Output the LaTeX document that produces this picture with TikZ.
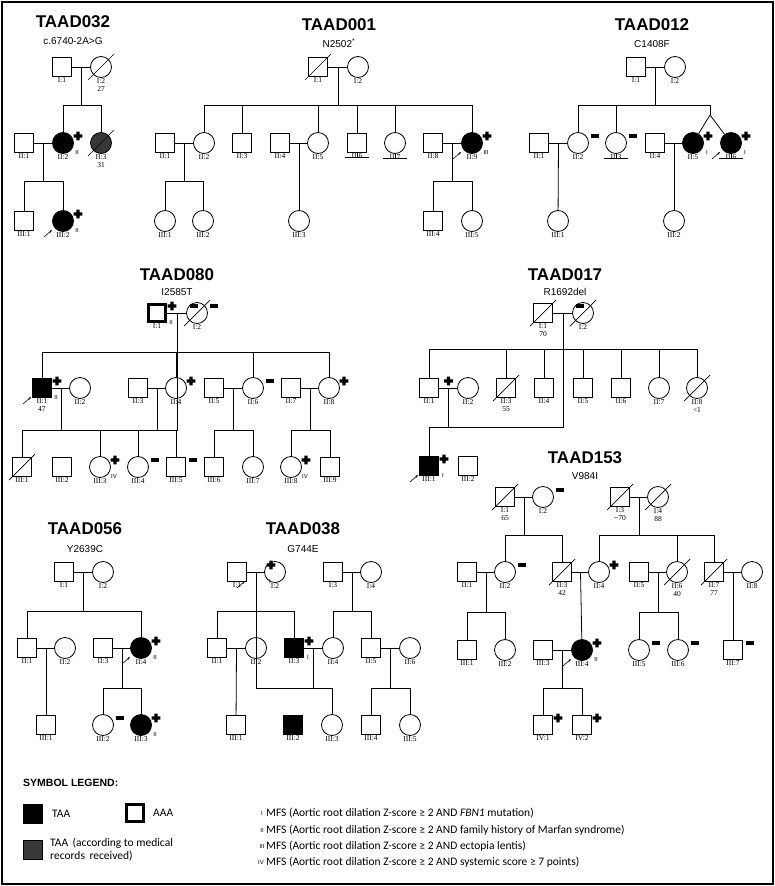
\documentclass[tikz,border=0pt]{standalone}
\usepackage{fontspec}
\setmainfont{Liberation Serif}
\newfontfamily\hfont{Liberation Sans}
\newfontfamily\legfont{Carlito}
\usepackage{tikz}
\usetikzlibrary{calc, arrows.meta}
\tikzstyle{per} = [draw, line width=0.8pt, inner sep=0pt, label distance=1pt]
\tikzstyle{m} = [per, rectangle, minimum size=19]
\tikzstyle{f} = [per, circle, minimum size=21]
\tikzstyle{aff} = [fill=black]
\tikzstyle{gry} = [fill=black!78]
\tikzstyle{aaa} = [line width=3pt, minimum size=17]
\tikzstyle{lab} = [font=\fontsize{7.5}{7.5}\selectfont, align=center, inner sep=0.5pt]
\tikzstyle{title} = [font=\hfont\bfseries\fontsize{17}{17}\selectfont]
\tikzstyle{mut} = [font=\hfont\fontsize{10}{10}\selectfont]
\tikzstyle{rn} = [font=\hfont\fontsize{6}{6}\selectfont, inner sep=0pt]
\tikzstyle{leg} = [font=\legfont\fontsize{11.5}{13}\selectfont, anchor=west, inner sep=0pt, align=left]
\tikzset{plus/.pic={\fill (-1.7,-4.3) rectangle (1.7,4.3) (-4.3,-1.7) rectangle (4.3,1.7);},
  minus/.pic={\fill (-4,-1.6) rectangle (4,1.6);}}
\newcommand\M[4][]{\node[m,#1,label={[lab]below:{#4}}] (#2) at (#3) {};}
\newcommand\F[4][]{\node[f,#1,label={[lab]below:{#4}}] (#2) at (#3) {};}
\newcommand\pl[1]{\pic at ([shift={(15,-7)}]#1.center) {plus};}
\newcommand\mi[1]{\pic at ([shift={(17,-7)}]#1.center) {minus};}
\newcommand\rn[2]{\node[rn] at ([shift={(14,9)}]#1.center) {#2};}
\newcommand\pb[1]{\draw[line width=0.6pt,-{Stealth[length=3pt]}] ([shift={(-19,16)}]#1.center) -- ([shift={(-11,9)}]#1.center);}
\newcommand\dead[1]{\draw[line width=0.7pt] ([shift={(-13,13)}]#1.center) -- ([shift={(13,-13)}]#1.center);}
\newcommand\nokid[1]{\draw[line width=0.7pt] (#1.south) -- ++(0,4) ++(-12,0) -- ++(24,0);}
% couple line, then children hanging from a sibship line at height #3
\newcommand\mate[2]{\draw[line width=0.8pt] (#1) -- (#2);}
\newcommand\sibs[3]{\foreach \c in {#3} {\draw[line width=0.8pt] (#1) -- (#1 |- 0,#2) -| (\c);}}

\begin{document}
\begin{tikzpicture}[x=1pt, y=-1pt]
\useasboundingbox (0,0) rectangle (775,886);
\draw[line width=2.5pt] (2,2) rectangle (773,884);

% TAAD032
\node[title] (t32) at (73,22) {TAAD032};
\node[mut] (g32) at (73,41) {c.6740-2A>G};
\M{a1}{62,67}{I:1} \F{a2}{101,67}{I:2\\27}
\M{a3}{24,143}{II:1} \F[aff]{a4}{63,143}{II:2} \F[gry]{a5}{101,143}{II:3\\31}
\M{a6}{24,221}{III:1} \F[aff]{a7}{63,221}{III:2}
\mate{a1}{a2} \mate{a3}{a4}
\coordinate (a12) at ($(a1)!.5!(a2)$); \coordinate (a34) at ($(a3)!.5!(a4)$);
\sibs{a12}{105}{a4,a5} \sibs{a34}{181}{a6,a7}
\dead{a2} \dead{a5} \pl{a4} \rn{a4}{II} \pl{a7} \rn{a7}{II} \pb{a7}

% TAAD001
\node[title] (t01) at (339,25) {TAAD001};
\node[mut] (g01) at (339,43) {N2502\textsuperscript{*}};
\M{b1}{318,67}{I:1} \F{b2}{358,67}{I:2}
\M{b3}{165,143}{II:1} \F{b4}{204,143}{II:2} \M{b5}{242,143}{II:3}
\M{b6}{280,143}{II:4} \F{b7}{318,143}{II:5} \M{b8}{357,143}{II:6}
\F{b9}{395,143}{II:7} \M{b10}{433,143}{II:8} \F[aff]{b11}{472,143}{II:9}
\F{b12}{165,221}{III:1} \F{b13}{203,221}{III:2} \F{b14}{299,221}{III:3}
\M{b15}{433,221}{III:4} \F{b16}{472,221}{III:5}
\mate{b1}{b2} \mate{b3}{b4} \mate{b6}{b7} \mate{b10}{b11}
\coordinate (b12m) at ($(b1)!.5!(b2)$); \coordinate (b34) at ($(b3)!.5!(b4)$);
\coordinate (b67) at ($(b6)!.5!(b7)$); \coordinate (b1011) at ($(b10)!.5!(b11)$);
\sibs{b12m}{105}{b4,b5,b7,b8,b9,b11}
\sibs{b34}{181}{b12,b13} \draw[line width=0.8pt] (b67) -- (b14);
\sibs{b1011}{181}{b15,b16}
\dead{b1} \nokid{b8} \nokid{b9} \pl{b11} \rn{b11}{III} \pb{b11}

% TAAD012
\node[title] (t12) at (652,25) {TAAD012};
\node[mut] (g12) at (652,44) {C1408F};
\M{c1}{636,67}{I:1} \F{c2}{675,67}{I:2}
\M{c3}{539,143}{II:1} \F{c4}{578,143}{II:2} \F{c5}{616,143}{II:3}
\M{c6}{655,143}{II:4} \F[aff]{c7}{693,143}{II:5} \F[aff]{c8}{731,143}{II:6}
\F{c9}{558,221}{III:1} \F{c10}{674,221}{III:2}
\mate{c1}{c2} \mate{c3}{c4} \mate{c6}{c7}
\coordinate (c12) at ($(c1)!.5!(c2)$); \coordinate (c34) at ($(c3)!.5!(c4)$);
\coordinate (c67) at ($(c6)!.5!(c7)$); \coordinate (tw) at (710,115);
\sibs{c12}{105}{c4,c5,tw}
\draw[line width=0.8pt] (tw) -- (c7); \draw[line width=0.8pt] (tw) -- (c8);
\draw[line width=0.8pt] (c34) -- (c9); \draw[line width=0.8pt] (c67) -- (c10);
\mi{c4} \mi{c5} \nokid{c5} \pl{c7} \rn{c7}{I} \pl{c8} \rn{c8}{I} \pb{c8} \nokid{c8}

% TAAD080
\node[title] (t80) at (177,275) {TAAD080};
\node[mut] (g80) at (177,292) {I2585T};
\M[aaa]{d1}{157,313}{I:1} \F{d2}{197,313}{I:2}
\M[aff]{d3}{42,388}{II:1\\47} \F{d4}{80,388}{II:2} \M{d5}{138,388}{II:3}
\F{d6}{176,388}{II:4} \M{d7}{214,388}{II:5} \F{d8}{253,388}{II:6}
\M{d9}{291,388}{II:7} \F{d10}{329,388}{II:8}
\M{d11}{22,467}{III:1} \M{d12}{62,467}{III:2} \F{d13}{100,467}{III:3}
\F{d14}{138,467}{III:4} \M{d15}{176,467}{III:5} \M{d16}{214,467}{III:6}
\F{d17}{253,467}{III:7} \F{d18}{291,467}{III:8} \M{d19}{330,467}{III:9}
\mate{d1}{d2} \mate{d3}{d4} \mate{d5}{d6} \mate{d7}{d8} \mate{d9}{d10}
\coordinate (d12) at ($(d1)!.5!(d2)$); \coordinate (d34) at ($(d3)!.5!(d4)$);
\coordinate (d56) at ($(d5)!.5!(d6)$); \coordinate (d78) at ($(d7)!.5!(d8)$);
\coordinate (d910) at ($(d9)!.5!(d10)$);
\sibs{d12}{352}{d3,d6,d8,d10}
\sibs{d34}{430}{d11,d12,d13} \sibs{d56}{430}{d14,d15}
\sibs{d78}{430}{d16,d17} \sibs{d910}{430}{d18,d19}
\pl{d1} \rn{d1}{II} \dead{d2} \mi{d2} \pl{d3} \rn{d3}{II} \pb{d3}
\pl{d6} \mi{d8} \pl{d10} \dead{d11} \mi{d12} \pl{d13} \rn{d13}{IV}
\mi{d14} \mi{d15} \pl{d18} \rn{d18}{IV}

% TAAD017
\node[title] (t17) at (565,275) {TAAD017};
\node[mut] (g17) at (565,292) {R1692del};
\M{e1}{543,313}{I:1\\70} \F{e2}{583,313}{I:2}
\M{e3}{429,388}{II:1} \F{e4}{468,388}{II:2} \M{e5}{506,388}{II:3\\55}
\M{e6}{544,388}{II:4} \M{e7}{583,388}{II:5} \M{e8}{621,388}{II:6}
\F{e9}{659,388}{II:7} \F{e10}{697,388}{II:8\\<1}
\M[aff]{e11}{429,466}{III:1} \M{e12}{468,466}{III:2}
\mate{e1}{e2} \mate{e3}{e4}
\coordinate (e12) at ($(e1)!.5!(e2)$); \coordinate (e34) at ($(e3)!.5!(e4)$);
\sibs{e12}{349}{e3,e5,e6,e7,e8,e9,e10} \sibs{e34}{427}{e11,e12}
\dead{e1} \dead{e2} \dead{e5} \dead{e10}
\pic at ([shift={(0,-7)}]e34) {plus};
\pl{e11} \rn{e11}{I} \pb{e11} \mi{e12}

% TAAD153
\node[title] (t153) at (585,458) {TAAD153};
\node[mut] (g153) at (585,476) {V984I};
\M{h1}{505,497}{I:1\\65} \F{h2}{543,497}{I:2} \M{h3}{620,497}{I:3\\\textasciitilde70} \F{h4}{658,497}{I:4\\88}
\M{h5}{467,572}{II:1} \F{h6}{505,572}{II:2} \M{h7}{562,572}{II:3\\42} \F{h8}{599,572}{II:4}
\M{h9}{639,572}{II:5} \F{h10}{677,572}{II:6\\40} \M{h11}{714,572}{II:7\\77} \F{h12}{752,572}{II:8}
\M{h13}{467,650}{III:1} \F{h14}{505,650}{III:2} \M{h15}{543,650}{III:3} \F[aff]{h16}{582,650}{III:4}
\F{h17}{639,650}{III:5} \F{h18}{678,650}{III:6} \M{h19}{733,650}{III:7}
\M{h20}{543,725}{IV:1} \M{h21}{582,725}{IV:2}
\mate{h1}{h2} \mate{h3}{h4} \mate{h5}{h6} \mate{h7}{h8} \mate{h9}{h10} \mate{h11}{h12} \mate{h15}{h16}
\coordinate (h12m) at ($(h1)!.5!(h2)$); \coordinate (h34) at ($(h3)!.5!(h4)$);
\coordinate (h56) at ($(h5)!.5!(h6)$); \coordinate (h78) at ($(h7)!.5!(h8)$);
\coordinate (h910) at ($(h9)!.5!(h10)$); \coordinate (h1112) at ($(h11)!.5!(h12)$);
\coordinate (h1516) at ($(h15)!.5!(h16)$);
\sibs{h12m}{535}{h6,h7} \sibs{h34}{535}{h8,h10,h11}
\sibs{h56}{612}{h13,h14} \draw[line width=0.8pt] (h78) -- (h16);
\sibs{h910}{612}{h17,h18} \draw[line width=0.8pt] (h1112) -- (h19);
\sibs{h1516}{688}{h20,h21}
\dead{h1} \mi{h2} \dead{h3} \dead{h4} \mi{h6} \dead{h7} \pl{h8} \dead{h10} \dead{h11}
\pl{h16} \rn{h16}{II} \pb{h16} \mi{h17} \mi{h18} \mi{h19} \pl{h20} \pl{h21}

% TAAD056
\node[title] (t56) at (85,529) {TAAD056};
\node[mut] (g56) at (85,549) {Y2639C};
\M{k1}{64,572}{I:1} \F{k2}{103,572}{I:2}
\M{k3}{27,648}{II:1} \F{k4}{65,648}{II:2} \M{k5}{103,648}{II:3} \F[aff]{k6}{141,648}{II:4}
\M{k7}{46,725}{III:1} \F{k8}{103,725}{III:2} \F[aff]{k9}{141,725}{III:3}
\mate{k1}{k2} \mate{k3}{k4} \mate{k5}{k6}
\coordinate (k12) at ($(k1)!.5!(k2)$); \coordinate (k34) at ($(k3)!.5!(k4)$);
\coordinate (k56) at ($(k5)!.5!(k6)$);
\sibs{k12}{611}{k3,k6} \draw[line width=0.8pt] (k34) -- (k7); \sibs{k56}{688}{k8,k9}
\pl{k6} \rn{k6}{II} \pb{k6} \mi{k8} \pl{k9} \rn{k9}{II}

% TAAD038
\node[title] (t38) at (303,529) {TAAD038};
\node[mut] (g38) at (303,549) {G744E};
\M{n1}{237,572}{I:1} \F{n2}{275,572}{I:2} \M{n3}{333,572}{I:3} \F{n4}{371,572}{I:4}
\M{n5}{217,648}{II:1} \F{n6}{256,648}{II:2} \M[aff]{n7}{294,648}{II:3}
\F{n8}{333,648}{II:4} \M{n9}{371,648}{II:5} \F{n10}{410,648}{II:6}
\M{n11}{236,725}{III:1} \M[aff]{n12}{293,725}{III:2} \F{n13}{332,725}{III:3}
\M{n14}{371,725}{III:4} \F{n15}{410,725}{III:5}
\mate{n1}{n2} \mate{n3}{n4} \mate{n5}{n6} \mate{n7}{n8} \mate{n9}{n10}
\coordinate (n12) at ($(n1)!.5!(n2)$); \coordinate (n34) at ($(n3)!.5!(n4)$);
\coordinate (n56) at ($(n5)!.5!(n6)$); \coordinate (n78) at ($(n7)!.5!(n8)$);
\coordinate (n910) at ($(n9)!.5!(n10)$);
\sibs{n12}{611}{n5,n7} \sibs{n34}{611}{n8,n9}
\draw[line width=0.8pt] (n56) -- (n11); \sibs{n78}{688}{n12,n13} \sibs{n910}{688}{n14,n15}
\pl{n7} \rn{n7}{I} \pl{n12} \rn{n12}{I} \pb{n12}

% legend
\node[leg, font=\hfont\bfseries\fontsize{10.5}{10.5}\selectfont] (lg) at (23,783) {SYMBOL LEGEND:};
\node[m, aff] (l1) at (33,814) {};
\node[leg] (l1t) at (52,814) {TAA};
\node[m, aaa] (l2) at (135,813) {};
\node[leg] (l2t) at (153,813) {AAA};
\node[m, gry] (l3) at (33,850) {};
\node[leg, anchor=north west] (l3t) at (50,838) {TAA\ \,(according to medical\\records\ \,received)};
\node[rn] (r1) at (262,813) {I};
\node[leg] (r1t) at (266,813) {MFS (Aortic root dilation Z-score ≥ 2 AND \textit{FBN1} mutation)};
\node[rn] (r2) at (262,830) {II};
\node[leg] (r2t) at (266,830) {MFS (Aortic root dilation Z-score ≥ 2 AND family history of Marfan syndrome)};
\node[rn] (r3) at (262,846) {III};
\node[leg] (r3t) at (266,846) {MFS (Aortic root dilation Z-score ≥ 2 AND ectopia lentis)};
\node[rn] (r4) at (261,862) {IV};
\node[leg] (r4t) at (266,862) {MFS (Aortic root dilation Z-score ≥ 2 AND systemic score ≥ 7 points)};
\end{tikzpicture}
\end{document}
